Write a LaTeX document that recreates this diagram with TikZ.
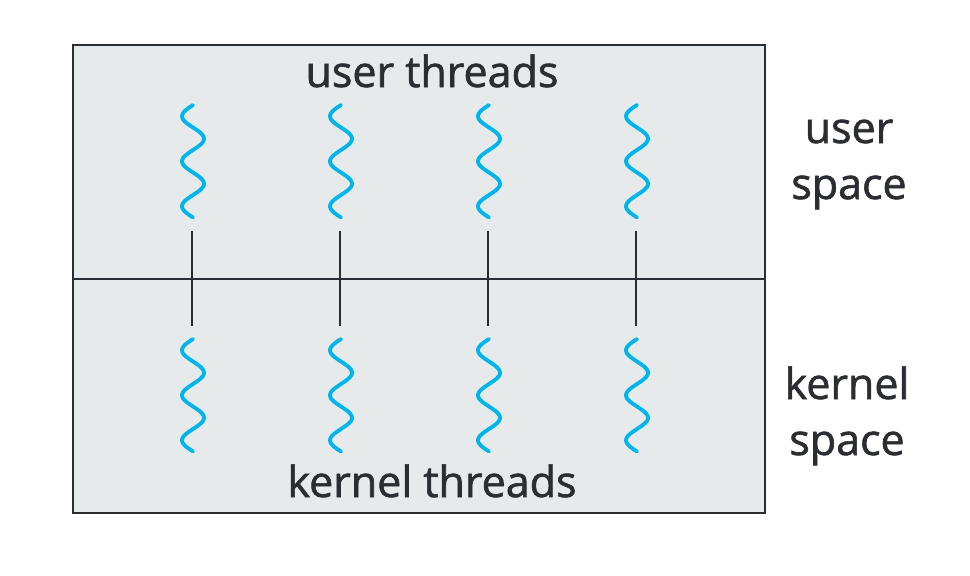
\documentclass[tikz,border=0pt]{standalone}
\usepackage{fontspec}
\setmainfont{Open Sans}
\newfontfamily\spacefont{Open Sans}[FakeBold=1.4]
\usetikzlibrary{positioning}
\definecolor{spacefill}{RGB}{230,234,235}
\definecolor{edgegray}{RGB}{43,45,51}
\definecolor{threadblue}{RGB}{0,180,236}
\tikzset{%
% Specifications for style of nodes and lines:
spacebox/.style = {draw=edgegray, fill=spacefill, line width=2.8pt, minimum width=692pt, minimum height=234pt, inner sep=0},
spacetext/.style = {text=edgegray, font=\spacefont\fontsize{43}{56}\selectfont, inner sep=0},
threadline/.style = {draw=threadblue, line width=3.8pt, line cap=round},
linkline/.style = {draw=edgegray, line width=2.8pt},
}

\begin{document}
\begin{tikzpicture}[x=1pt, y=-1pt]
    \useasboundingbox (0,0) rectangle (970,576);
    % Specification of the two spaces
    \node (userSpace) [spacebox] at (419,162) {};
    \node (kernelSpace) [spacebox] at (419,396) {};
    \node (userThreads) [spacetext, anchor=base] at (432,87) {user threads};
    \node (kernelThreads) [spacetext, anchor=base] at (432,497) {kernel threads};
    \node (userLabel) [spacetext, align=center, anchor=base] at (849,199) {user\\space};
    \node (kernelLabel) [spacetext, align=center, anchor=base] at (847,455) {kernel\\space};

    % Threads and the lines between them
    \foreach \i/\cx in {1/192, 2/340, 3/488, 4/636} {
        \draw [threadline] plot [domain=0:112.5, samples=90, smooth] ({\cx+1-11*sin(8*\x)}, {105+\x});
        \draw [threadline] plot [domain=0:112.5, samples=90, smooth] ({\cx+1-11*sin(8*\x)}, {339+\x});
        \coordinate (userEnd\i) at (\cx,231);
        \coordinate (kernelEnd\i) at (\cx,326);
        \draw [linkline] (userEnd\i) -- (kernelEnd\i);
    }
\end{tikzpicture}
\end{document}
